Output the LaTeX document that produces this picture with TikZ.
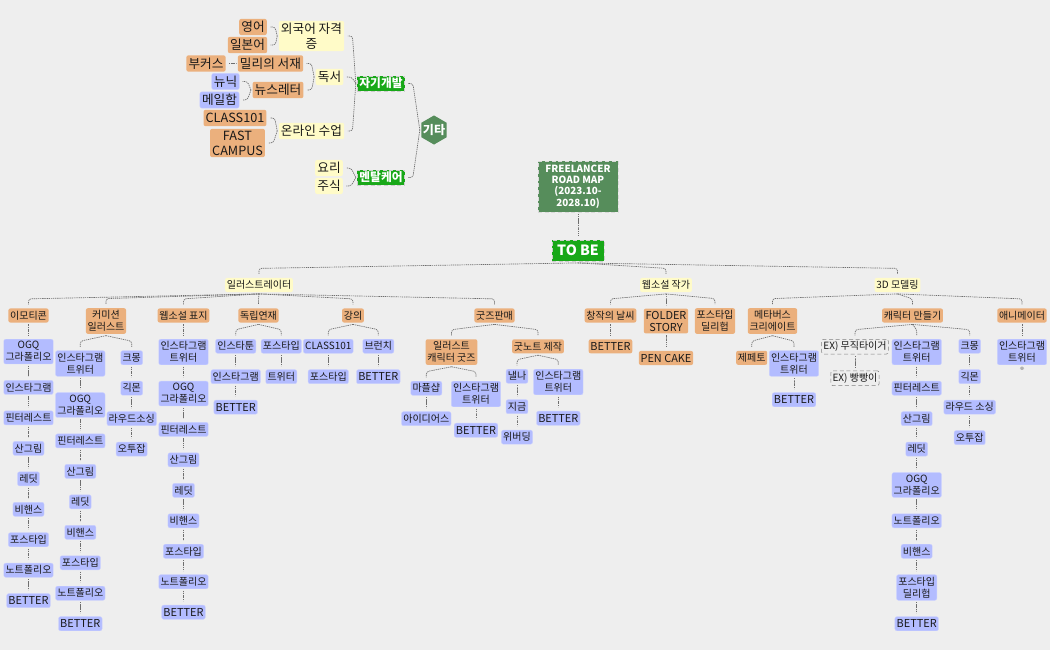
\documentclass[tikz,border=0pt]{standalone}
\usepackage{fontspec}
\setmainfont{Noto Sans CJK KR}
\usetikzlibrary{shapes,positioning}
\definecolor{pagebg}{RGB}{238,238,238}
\definecolor{tagorange}{RGB}{235,176,125}
\definecolor{tagblue}{RGB}{179,188,255}
\definecolor{tagyellow}{RGB}{255,251,200}
\definecolor{topgreen}{RGB}{24,168,24}
\definecolor{rootgreen}{RGB}{86,141,91}
\definecolor{linkgray}{RGB}{110,110,110}
\newcommand{\twig}[2]{\draw[link] ([yshift=-1.2pt]#1.south) -- ([yshift=7pt]#2.north) -- ([yshift=2.8pt]#2.north);}
\newcommand{\twigback}[2]{\draw[link] ([xshift=-1pt]#1.west) -- ([xshift=6pt]#2.east) -- ([xshift=2.4pt]#2.east);}

\begin{document}
\begin{tikzpicture}[
    x=0.75pt, y=-0.75pt,
    node distance=12pt,
    tag/.style={rectangle, rounded corners=1.5pt, inner xsep=1.3pt, inner ysep=1.7pt, minimum height=10.55pt, align=center, text=black!90, font=\fontsize{7.5}{9}\selectfont},
    big/.style={inner xsep=1.6pt, inner ysep=1.4pt, minimum height=12.2pt, font=\fontsize{9.5}{11.2}\selectfont},
    latin/.style={font=\fontsize{8.2}{9}\selectfont},
    orange/.style={tag, fill=tagorange},
    blue/.style={tag, fill=tagblue, draw=tagblue!70!white, line width=0.3pt},
    yellow/.style={tag, fill=tagyellow},
    ghost/.style={tag, draw=gray, densely dashed, line width=0.4pt},
    leader/.style={rectangle, fill=topgreen, draw=gray!40, densely dashed, line width=0.4pt, inner sep=1.5pt, text=white, font=\fontsize{8.8}{10}\selectfont\bfseries},
    link/.style={draw=linkgray, line width=0.5pt, dash pattern=on 1pt off 0.6pt, rounded corners=2pt}
]
\path[use as bounding box, fill=pagebg] (0,0) rectangle (1050,650);

% Root
\node[rectangle, fill=rootgreen, draw=gray!30, densely dashed, line width=0.5pt, minimum width=60pt, minimum height=38.2pt, inner sep=0pt, align=center, text=white, font=\fontsize{7.4}{8.5}\selectfont\bfseries] (root) at (578,186.5) {FREELANCER\\ROAD MAP\\(2023.10-\\2028.10)};
\node[leader, minimum width=39pt, minimum height=15.8pt, font=\fontsize{10.6}{12}\selectfont\bfseries] (to_be) at (578,250.5) {TO BE};
\twig{root}{to_be}

% Upper left: extras
\node[regular polygon, regular polygon sides=6, regular polygon rotate=30, fill=rootgreen, minimum size=21.8pt, inner sep=0pt, label={[text=white, inner sep=0pt, font=\fontsize{9}{10}\selectfont\bfseries]center:기타}] (extra) at (434,130) {};
\node[leader] (self_dev) at (381,83.5) {자기개발};
\node[leader] (mental) at (381,177.5) {멘탈케어};

\node[yellow, big] (cert) at (311.5,36) {외국어 자격\\증};
\node[yellow, big] (reading) at (329.5,77) {독서};
\node[yellow, big] (online) at (311.5,131) {온라인 수업};
\node[yellow, big] (cooking) at (329,168) {요리};
\node[yellow, big] (stocks) at (329,186) {주식};

\node[orange, big] (english) at (253,27) {영어};
\node[orange, big] (japanese) at (247.5,45) {일본어};
\node[orange, big] (millie) at (270.5,63.5) {밀리의 서재};
\node[orange, big] (bookers) at (206,63.5) {부커스};
\node[orange, big] (newsletter) at (278,90) {뉴스레터};
\node[blue, big] (newneek) at (225.5,81.5) {뉴닉};
\node[blue, big] (mailbox) at (219.5,100) {메일함};
\node[orange, big] (class_big) at (235,118) {CLASS101};
\node[orange, big] (fast) at (237.5,143) {FAST\\CAMPUS};

\twigback{extra}{self_dev} \twigback{extra}{mental}
\twigback{self_dev}{cert} \twigback{self_dev}{reading} \twigback{self_dev}{online}
\twigback{mental}{cooking} \twigback{mental}{stocks}
\twigback{cert}{english} \twigback{cert}{japanese}
\twigback{reading}{millie} \twigback{reading}{newsletter}
\twigback{millie}{bookers}
\twigback{newsletter}{newneek} \twigback{newsletter}{mailbox}
\twigback{online}{class_big} \twigback{online}{fast}

% Three careers
\node[yellow] (illust) at (259,285) {일러스트레이터};
\node[yellow] (novelist) at (666,285) {웹소설 작가};
\node[yellow] (modeling) at (897.5,285) {3D 모델링};
\twig{to_be}{illust} \twig{to_be}{novelist} \twig{to_be}{modeling}

% Illustrator branches
\node[orange] (emoticon) at (28.5,315.5) {이모티콘};
\node[orange] (commission) at (106,321) {커미션\\일러스트};
\node[orange] (cover) at (183.5,315.5) {웹소설 표지};
\node[orange] (indie) at (258.5,315.5) {독립연재};
\node[orange] (lecture) at (353,315.5) {강의};
\node[orange] (goods) at (494.5,315.5) {굿즈판매};
\twig{illust}{emoticon} \twig{illust}{commission} \twig{illust}{cover}
\twig{illust}{indie} \twig{illust}{lecture} \twig{illust}{goods}

% Emoticon column
\node[blue, anchor=north] (emo_ogq) at (28.5,339) {OGQ\\그라폴리오};
\node[blue, below=of emo_ogq] (emo_insta) {인스타그램};
\node[blue, below=of emo_insta] (emo_pin) {핀터레스트};
\node[blue, below=of emo_pin] (emo_san) {산그림};
\node[blue, below=of emo_san] (emo_reddit) {레딧};
\node[blue, below=of emo_reddit] (emo_behance) {비핸스};
\node[blue, below=of emo_behance] (emo_post) {포스타입};
\node[blue, below=of emo_post] (emo_note) {노트폴리오};
\node[blue, latin, below=of emo_note] (emo_better) {BETTER};
\twig{emoticon}{emo_ogq} \twig{emo_ogq}{emo_insta} \twig{emo_insta}{emo_pin} \twig{emo_pin}{emo_san}
\twig{emo_san}{emo_reddit} \twig{emo_reddit}{emo_behance} \twig{emo_behance}{emo_post}
\twig{emo_post}{emo_note} \twig{emo_note}{emo_better}

% Commission columns
\node[blue, anchor=north] (com_insta) at (80.3,350.5) {인스타그램\\트위터};
\node[blue, below=of com_insta] (com_ogq) {OGQ\\그라폴리오};
\node[blue, below=of com_ogq] (com_pin) {핀터레스트};
\node[blue, below=of com_pin] (com_san) {산그림};
\node[blue, below=of com_san] (com_reddit) {레딧};
\node[blue, below=of com_reddit] (com_behance) {비핸스};
\node[blue, below=of com_behance] (com_post) {포스타입};
\node[blue, below=of com_post] (com_note) {노트폴리오};
\node[blue, latin, below=of com_note] (com_better) {BETTER};
\node[blue, anchor=north] (com_kmong) at (131.7,350.5) {크몽};
\node[blue, below=of com_kmong] (com_gig) {긱몬};
\node[blue, below=of com_gig] (com_loud) {라우드소싱};
\node[blue, below=of com_loud] (com_otwo) {오투잡};
\twig{commission}{com_insta} \twig{commission}{com_kmong}
\twig{com_insta}{com_ogq} \twig{com_ogq}{com_pin} \twig{com_pin}{com_san} \twig{com_san}{com_reddit}
\twig{com_reddit}{com_behance} \twig{com_behance}{com_post} \twig{com_post}{com_note} \twig{com_note}{com_better}
\twig{com_kmong}{com_gig} \twig{com_gig}{com_loud} \twig{com_loud}{com_otwo}

% Cover column
\node[blue, anchor=north] (cov_insta) at (183.5,339) {인스타그램\\트위터};
\node[blue, below=of cov_insta] (cov_ogq) {OGQ\\그라폴리오};
\node[blue, below=of cov_ogq] (cov_pin) {핀터레스트};
\node[blue, below=of cov_pin] (cov_san) {산그림};
\node[blue, below=of cov_san] (cov_reddit) {레딧};
\node[blue, below=of cov_reddit] (cov_behance) {비핸스};
\node[blue, below=of cov_behance] (cov_post) {포스타입};
\node[blue, below=of cov_post] (cov_note) {노트폴리오};
\node[blue, latin, below=of cov_note] (cov_better) {BETTER};
\twig{cover}{cov_insta} \twig{cov_insta}{cov_ogq} \twig{cov_ogq}{cov_pin} \twig{cov_pin}{cov_san}
\twig{cov_san}{cov_reddit} \twig{cov_reddit}{cov_behance} \twig{cov_behance}{cov_post}
\twig{cov_post}{cov_note} \twig{cov_note}{cov_better}

% Indie serial
\node[blue, anchor=north] (indie_toon) at (235.7,339) {인스타툰};
\node[blue, below=of indie_toon] (indie_insta) {인스타그램};
\node[blue, latin, below=of indie_insta] (indie_better) {BETTER};
\node[blue, anchor=north] (indie_post) at (281.3,339) {포스타입};
\node[blue, below=of indie_post] (indie_tw) {트위터};
\twig{indie}{indie_toon} \twig{indie}{indie_post}
\twig{indie_toon}{indie_insta} \twig{indie_insta}{indie_better} \twig{indie_post}{indie_tw}

% Lecture
\node[blue, anchor=north] (lec_class) at (328.3,339) {CLASS101};
\node[blue, below=of lec_class] (lec_post) {포스타입};
\node[blue, anchor=north] (lec_brunch) at (378.3,339) {브런치};
\node[blue, latin, below=of lec_brunch] (lec_better) {BETTER};
\twig{lecture}{lec_class} \twig{lecture}{lec_brunch}
\twig{lec_class}{lec_post} \twig{lec_brunch}{lec_better}

% Goods
\node[orange, anchor=north] (char_goods) at (451.5,339) {일러스트\\캐릭터 굿즈};
\node[orange, anchor=north] (goodnote) at (538,339) {굿노트 제작};
\node[blue, anchor=north] (marple) at (426.3,381) {마플샵};
\node[blue, below=of marple] (idus) {아이디어스};
\node[blue, anchor=north] (gd_insta) at (476,381) {인스타그램\\트위터};
\node[blue, latin, below=of gd_insta] (gd_better) {BETTER};
\node[blue, anchor=north] (nell) at (517,369) {낼나};
\node[blue, below=of nell] (jigeum) {지금};
\node[blue, below=of jigeum] (weverding) {위버딩};
\node[blue, anchor=north] (gn_insta) at (558.3,369) {인스타그램\\트위터};
\node[blue, latin, below=of gn_insta] (gn_better) {BETTER};
\twig{goods}{char_goods} \twig{goods}{goodnote}
\twig{char_goods}{marple} \twig{char_goods}{gd_insta} \twig{marple}{idus} \twig{gd_insta}{gd_better}
\twig{goodnote}{nell} \twig{goodnote}{gn_insta} \twig{nell}{jigeum} \twig{jigeum}{weverding} \twig{gn_insta}{gn_better}

% Novelist branches
\node[orange] (weather) at (610.5,315.5) {창작의 날씨};
\node[orange, latin] (folder) at (666,321) {FOLDER\\STORY};
\node[orange] (post_deal) at (715,321) {포스타입\\딜리헙};
\node[orange, latin, anchor=north] (wea_better) at (610.5,339) {BETTER};
\node[orange, latin, anchor=north] (pen_cake) at (666,350.7) {PEN CAKE};
\twig{novelist}{weather} \twig{novelist}{folder} \twig{novelist}{post_deal}
\twig{weather}{wea_better} \twig{folder}{pen_cake}

% Modeling branches
\node[orange] (meta) at (772.5,321) {메타버스\\크리에이트};
\node[orange] (character) at (912.5,315.5) {캐릭터 만들기};
\node[orange] (animator) at (1022,315.5) {애니메이터};
\twig{modeling}{meta} \twig{modeling}{character} \twig{modeling}{animator}

\node[orange, anchor=north] (zepeto) at (751.7,350.5) {제페토};
\node[blue, anchor=north] (meta_insta) at (794,350.5) {인스타그램\\트위터};
\node[blue, latin, below=of meta_insta] (meta_better) {BETTER};
\twig{meta}{zepeto} \twig{meta}{meta_insta} \twig{meta_insta}{meta_better}

\node[ghost, anchor=north] (muzik) at (855,339) {EX) 무직타이거};
\node[ghost, anchor=north] (bbang) at (855,370.5) {EX) 빵빵이};
\twig{character}{muzik} \twig{muzik}{bbang}

\node[blue, anchor=north] (chr_insta) at (916.7,339) {인스타그램\\트위터};
\node[blue, below=of chr_insta] (chr_pin) {핀터레스트};
\node[blue, below=of chr_pin] (chr_san) {산그림};
\node[blue, below=of chr_san] (chr_reddit) {레딧};
\node[blue, below=of chr_reddit] (chr_ogq) {OGQ\\그라폴리오};
\node[blue, below=of chr_ogq] (chr_note) {노트폴리오};
\node[blue, below=of chr_note] (chr_behance) {비핸스};
\node[blue, below=of chr_behance] (chr_post) {포스타입\\딜리헙};
\node[blue, latin, below=of chr_post] (chr_better) {BETTER};
\twig{character}{chr_insta} \twig{chr_insta}{chr_pin} \twig{chr_pin}{chr_san} \twig{chr_san}{chr_reddit}
\twig{chr_reddit}{chr_ogq} \twig{chr_ogq}{chr_note} \twig{chr_note}{chr_behance}
\twig{chr_behance}{chr_post} \twig{chr_post}{chr_better}

\node[blue, anchor=north] (chr_kmong) at (969.7,339) {크몽};
\node[blue, below=of chr_kmong] (chr_gig) {긱몬};
\node[blue, below=of chr_gig] (chr_loud) {라우드 소싱};
\node[blue, below=of chr_loud] (chr_otwo) {오투잡};
\twig{character}{chr_kmong} \twig{chr_kmong}{chr_gig} \twig{chr_gig}{chr_loud} \twig{chr_loud}{chr_otwo}

\node[blue, anchor=north] (ani_insta) at (1022,339) {인스타그램\\트위터};
\node[circle, fill=gray!60, draw=white, line width=0.3pt, minimum size=3.4pt, inner sep=0pt, below=0.6pt of ani_insta] (ani_dot) {};
\twig{animator}{ani_insta}

\end{tikzpicture}
\end{document}
